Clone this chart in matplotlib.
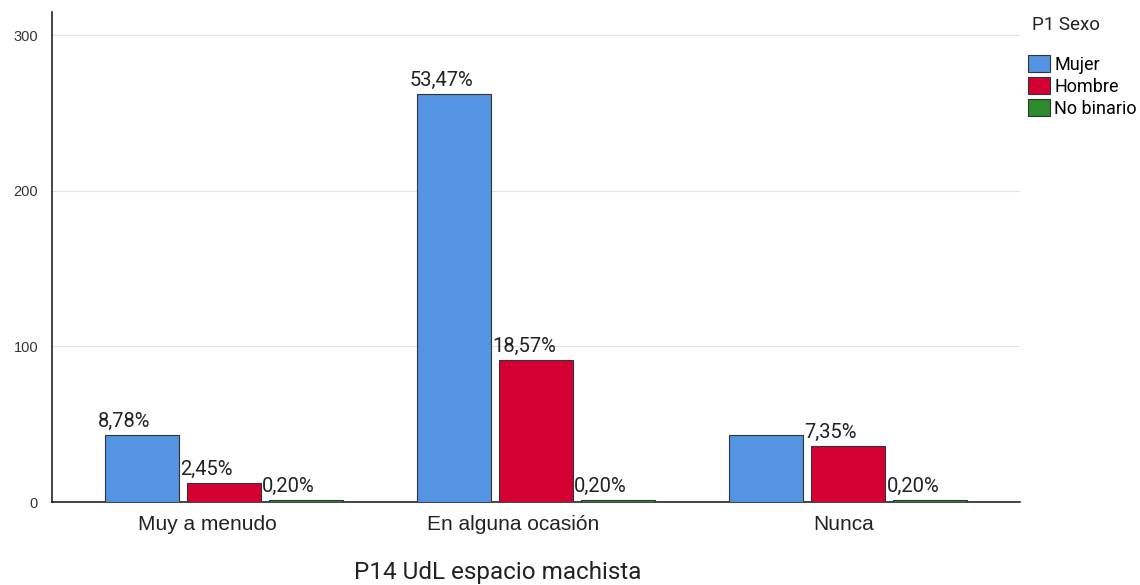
import matplotlib.pyplot as plt
import matplotlib.transforms as mtransforms
import numpy as np
from matplotlib.patches import Patch

plt.rcParams['font.family'] = ['Roboto', 'DejaVu Sans']

categories = ["Muy a menudo", "En alguna ocasión", "Nunca"]
series_names = ["Mujer", "Hombre", "No binario"]
mujer = [43, 262, 43]
hombre = [12, 91, 36]
no_binario = [1, 1, 1]
total = 490
# labels that the chart leaves hidden (Nunca / Mujer overlaps with its neighbour)
hidden = {(0, 2)}

colors = ["#5494e2", "#d50032", "#2d8a2d"]
yticks = [0, 100, 200, 300]
# horizontal nudge of each category label, in points
label_shift = [-11.5, -16.5, -3.6]

fig = plt.figure(figsize=(11.4, 5.85), dpi=100)
ax = fig.add_axes([52 / 1140, 1 - 502 / 585, (1020 - 52) / 1140, (502 - 12) / 585])

x = np.arange(len(categories))
width = 0.237
step = 0.263
series = [mujer, hombre, no_binario]

for i, vals in enumerate(series):
    pos = x + (i - 1) * step
    ax.bar(pos, vals, width=width, color=colors[i], edgecolor="#333333",
           linewidth=0.8, zorder=3)
    for j, v in enumerate(vals):
        if (i, j) in hidden:
            continue
        pct = f"{v / total * 100:.2f}%".replace(".", ",")
        ax.annotate(pct, (pos[j] - width / 2, v), xytext=(-5, 3),
                    textcoords="offset points", ha="left", va="bottom",
                    fontsize=14.5, color="#222222", zorder=4)

ax.set_xlim(-0.55, 2.55)
ax.set_ylim(0, 315)
ax.set_yticks(yticks)
ax.set_yticklabels([str(t) for t in yticks], fontsize=10.5, color="#333333",
                   family="Liberation Sans")
ax.set_xticks(x)
ax.set_xticklabels(categories, fontsize=15, color="#222222",
                   family="Liberation Sans")
ax.tick_params(axis="both", length=0)
ax.tick_params(axis="y", pad=10)
ax.tick_params(axis="x", pad=9)

for lbl, dx in zip(ax.get_xticklabels(), label_shift):
    lbl.set_transform(lbl.get_transform() +
                      mtransforms.ScaledTranslation(dx / 72, 0, fig.dpi_scale_trans))

for t in yticks[1:]:
    ax.axhline(t, color="#e2e2e2", linewidth=0.8, zorder=1)

for side in ["top", "right"]:
    ax.spines[side].set_visible(False)
ax.spines["left"].set_color("#111111")
ax.spines["bottom"].set_color("#111111")
ax.spines["left"].set_linewidth(1.1)
ax.spines["bottom"].set_linewidth(1.1)

fig.text(498 / 1140, 1 - 572 / 585, "P14 UdL espacio machista", ha="center",
         va="center", fontsize=17.5, color="#222222")

fig.text(1032 / 1140, 1 - 25 / 585, "P1 Sexo", ha="left", va="center",
         fontsize=13.5, color="#222222")
handles = [Patch(facecolor=c, edgecolor="#333333", linewidth=0.8) for c in colors]
fig.legend(handles, series_names, loc="upper left",
           bbox_to_anchor=(1028 / 1140, 1 - 55 / 585), frameon=False,
           fontsize=13, handlelength=1.2, handleheight=1.05,
           handletextpad=0.25, labelspacing=0.2, borderpad=0, borderaxespad=0)

fig.savefig("out.png", dpi=100)
